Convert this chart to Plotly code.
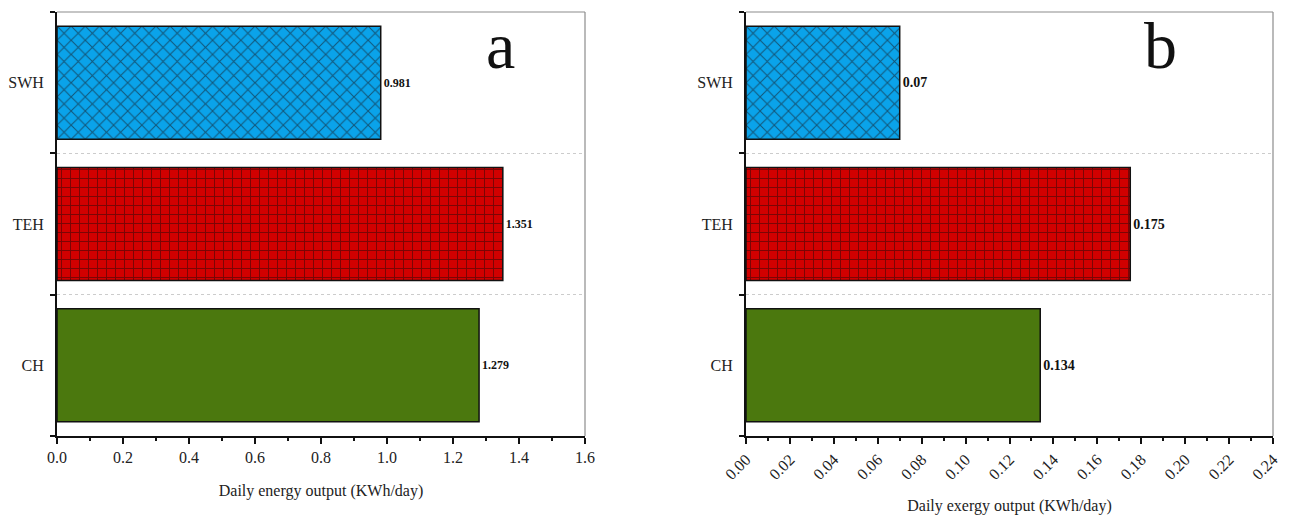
import plotly.graph_objects as go

categories = ["CH", "TEH", "SWH"]
energy = [1.279, 1.351, 0.981]
exergy = [0.134, 0.175, 0.07]
energy_labels = ["1.279", "1.351", "0.981"]
exergy_labels = ["0.134", "0.175", "0.07"]
bar_colors = ["#4b780e", "#d10000", "#0aa3ea"]
pattern_shapes = ["", "+", "x"]
pattern_sizes = [8, 9, 10]

FONT = "Liberation Serif"
W, H = 1293, 516
OFF = 8  # page body margin offset

fig = go.Figure()

def add_bars(vals, labels, xa, ya, fsize):
    for i, cat in enumerate(categories):
        fig.add_trace(go.Bar(
            y=[cat], x=[vals[i]], orientation="h",
            xaxis=xa, yaxis=ya, width=0.8,
            marker=dict(
                color=bar_colors[i],
                line=dict(color="#111111", width=1.5),
                pattern=dict(shape=pattern_shapes[i], size=pattern_sizes[i],
                             solidity=0.2, fgcolor="#1a0a0a",
                             bgcolor=bar_colors[i], fillmode="overlay"),
            ),
            text=[labels[i]], textposition="outside", cliponaxis=False,
            textfont=dict(family=FONT, size=fsize, color="#111111", weight="bold"),
            showlegend=False,
        ))

add_bars(energy, energy_labels, "x", "y", 12)
add_bars(exergy, exergy_labels, "x2", "y2", 14)

xcommon = dict(
    automargin=False,
    showline=True, linecolor="#111111", linewidth=2,
    ticks="outside", ticklen=6, tickwidth=1.5, tickcolor="#111111",
    showgrid=False, zeroline=False,
    tickfont=dict(family=FONT, size=16, color="#222222"),
    title_font=dict(family=FONT, size=16, color="#222222"),
)
ycommon = dict(
    automargin=False,
    type="category", categoryorder="array", categoryarray=categories,
    range=[-0.5, 2.5], tickson="boundaries",
    showline=True, linecolor="#111111", linewidth=2,
    ticks="outside", ticklen=5, tickwidth=1.5, tickcolor="#111111",
    showgrid=True, gridcolor="#cccccc", griddash="dot", gridwidth=1,
    tickfont=dict(family=FONT, size=16, color="#222222"),
    ticklabelstandoff=8,
)

fig.update_layout(
    width=W, height=H,
    margin=dict(l=0, r=0, t=12 - OFF, b=H - 436 + OFF),
    paper_bgcolor="white", plot_bgcolor="white",
    xaxis=dict(xcommon, domain=[(57 - OFF) / W, (585 - OFF) / W], range=[0, 1.6], dtick=0.2,
               tickformat=".1f", anchor="y",
               minor=dict(dtick=0.1, ticks="outside", ticklen=3, tickcolor="#111111"),
               title=dict(text="Daily energy output (KWh/day)", standoff=20)),
    yaxis=dict(ycommon, domain=[0, 1], anchor="x"),
    xaxis2=dict(xcommon, domain=[(746 - OFF) / W, (1273 - OFF) / W], range=[0, 0.24], dtick=0.02,
                tickformat=".2f", tickangle=-45, anchor="y2",
                minor=dict(dtick=0.01, ticks="outside", ticklen=3, tickcolor="#111111"),
                title=dict(text="Daily exergy output (KWh/day)", standoff=18)),
    yaxis2=dict(ycommon, domain=[0, 1], anchor="x2"),
)

# Frame: thin grey top and right borders
for xa, ya in [("x", "y"), ("x2", "y2")]:
    fig.add_shape(type="line", xref=f"{xa} domain", yref=f"{ya} domain",
                  x0=0, x1=1, y0=1, y1=1, line=dict(color="#8c8c8c", width=1.2))
    fig.add_shape(type="line", xref=f"{xa} domain", yref=f"{ya} domain",
                  x0=1, x1=1, y0=0, y1=1, line=dict(color="#8c8c8c", width=1.2))

fig.add_annotation(text="a", xref="x domain", yref="y domain", x=0.84, y=0.92,
                   xanchor="center", yanchor="middle",
                   showarrow=False, font=dict(family=FONT, size=66, color="#111111"))
fig.add_annotation(text="b", xref="x2 domain", yref="y2 domain", x=0.786, y=0.92,
                   xanchor="center", yanchor="middle",
                   showarrow=False, font=dict(family=FONT, size=66, color="#111111"))

fig.write_html("out.html")
